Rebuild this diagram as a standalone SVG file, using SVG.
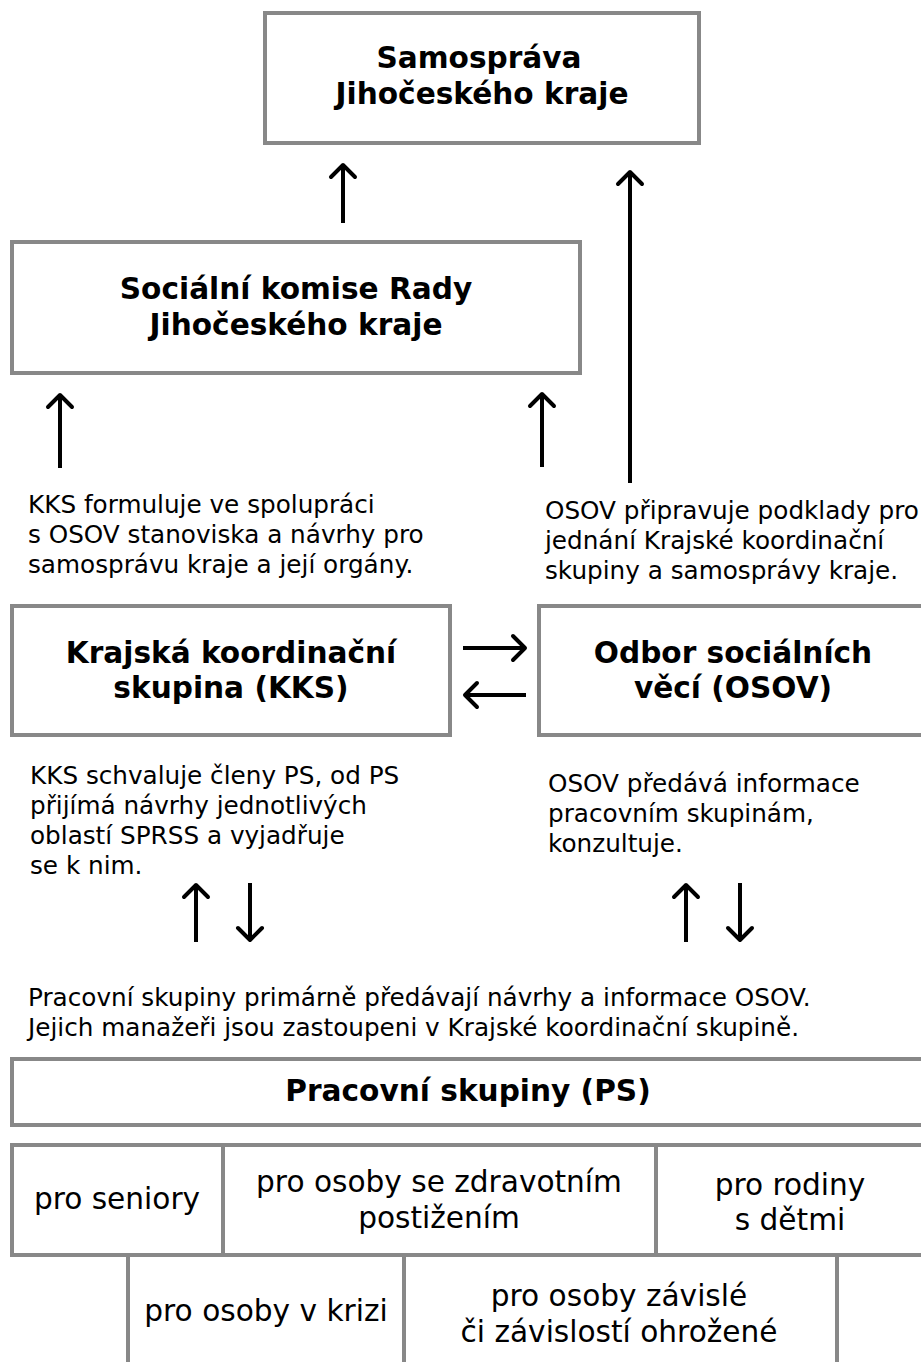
<svg xmlns="http://www.w3.org/2000/svg" width="921" height="1362" viewBox="0 0 921 1362">
<style>
.box{fill:#fff;stroke:#888;stroke-width:4}
.title{font-family:"DejaVu Sans",sans-serif;font-weight:bold;font-size:29.6px;text-anchor:middle;fill:#000}
.cell{font-family:"DejaVu Sans",sans-serif;font-size:29.6px;text-anchor:middle;fill:#000}
.para{font-family:"DejaVu Sans",sans-serif;font-size:24.7px;fill:#000}
.arr{fill:none;stroke:#000;stroke-width:4;marker-end:url(#head)}
.ln{stroke:#888;stroke-width:4}
</style>
<defs>
<marker id="head" markerUnits="userSpaceOnUse" viewBox="-16 -16 20 32" refX="0" refY="0" markerWidth="20" markerHeight="32" orient="auto" overflow="visible">
<path d="M-12,-12 L0,0 L-12,12" fill="none" stroke="#000" stroke-width="4" stroke-linecap="round" stroke-linejoin="round"/>
</marker>
</defs>
<rect width="921" height="1362" fill="#fff"/>
<g id="samosprava">
<rect class="box" x="265" y="13" width="434" height="130"/>
<text class="title" x="479" y="68">Samospráva</text>
<text class="title" x="482" y="104">Jihočeského kraje</text>
</g>
<g id="komise">
<rect class="box" x="12" y="242" width="568" height="131"/>
<text class="title" x="296" y="299">Sociální komise Rady</text>
<text class="title" x="296" y="335">Jihočeského kraje</text>
</g>
<g id="kks">
<rect class="box" x="12" y="606" width="438" height="129"/>
<text class="title" x="231" y="663">Krajská koordinační</text>
<text class="title" x="231" y="698">skupina (KKS)</text>
</g>
<g id="osov">
<rect class="box" x="539" y="606" width="390" height="129"/>
<text class="title" x="733" y="663">Odbor sociálních</text>
<text class="title" x="733" y="698">věcí (OSOV)</text>
</g>
<g id="ps">
<rect class="box" x="12" y="1059" width="917" height="66"/>
<text class="title" x="468" y="1101">Pracovní skupiny (PS)</text>
</g>
<g id="ps-table">
<rect class="box" x="12" y="1145" width="917" height="110"/>
<line class="ln" x1="223" y1="1145" x2="223" y2="1255"/>
<line class="ln" x1="656" y1="1145" x2="656" y2="1255"/>
<line class="ln" x1="128" y1="1255" x2="128" y2="1362"/>
<line class="ln" x1="404" y1="1255" x2="404" y2="1362"/>
<line class="ln" x1="837" y1="1255" x2="837" y2="1362"/>
<text class="cell" x="117" y="1209">pro seniory</text>
<text class="cell" x="439" y="1192">pro osoby se zdravotním</text>
<text class="cell" x="439" y="1228">postižením</text>
<text class="cell" x="790" y="1195">pro rodiny</text>
<text class="cell" x="790" y="1230">s dětmi</text>
<text class="cell" x="266" y="1321">pro osoby v krizi</text>
<text class="cell" x="619" y="1306">pro osoby závislé</text>
<text class="cell" x="619" y="1342">či závislostí ohrožené</text>
</g>
<g id="texts">
<text class="para" x="28" y="513">KKS formuluje ve spolupráci</text>
<text class="para" x="28" y="543">s OSOV stanoviska a návrhy pro</text>
<text class="para" x="28" y="573">samosprávu kraje a její orgány.</text>
<text class="para" x="545" y="519">OSOV připravuje podklady pro</text>
<text class="para" x="545" y="549">jednání Krajské koordinační</text>
<text class="para" x="545" y="579">skupiny a samosprávy kraje.</text>
<text class="para" x="30" y="784">KKS schvaluje členy PS, od PS</text>
<text class="para" x="30" y="814">přijímá návrhy jednotlivých</text>
<text class="para" x="30" y="844">oblastí SPRSS a vyjadřuje</text>
<text class="para" x="30" y="874">se k nim.</text>
<text class="para" x="548" y="792">OSOV předává informace</text>
<text class="para" x="548" y="822">pracovním skupinám,</text>
<text class="para" x="548" y="852">konzultuje.</text>
<text class="para" x="28" y="1006">Pracovní skupiny primárně předávají návrhy a informace OSOV.</text>
<text class="para" x="28" y="1036">Jejich manažeři jsou zastoupeni v Krajské koordinační skupině.</text>
</g>
<g id="connectors">
<path class="arr" d="M343,223 L343,165"/>
<path class="arr" d="M630,483 L630,172"/>
<path class="arr" d="M60,468 L60,395"/>
<path class="arr" d="M542,467 L542,394"/>
<path class="arr" d="M463,648 L525,648"/>
<path class="arr" d="M526,695 L465,695"/>
<path class="arr" d="M196,942 L196,885"/>
<path class="arr" d="M250,883 L250,940"/>
<path class="arr" d="M686,942 L686,885"/>
<path class="arr" d="M740,883 L740,940"/>
</g>
</svg>
